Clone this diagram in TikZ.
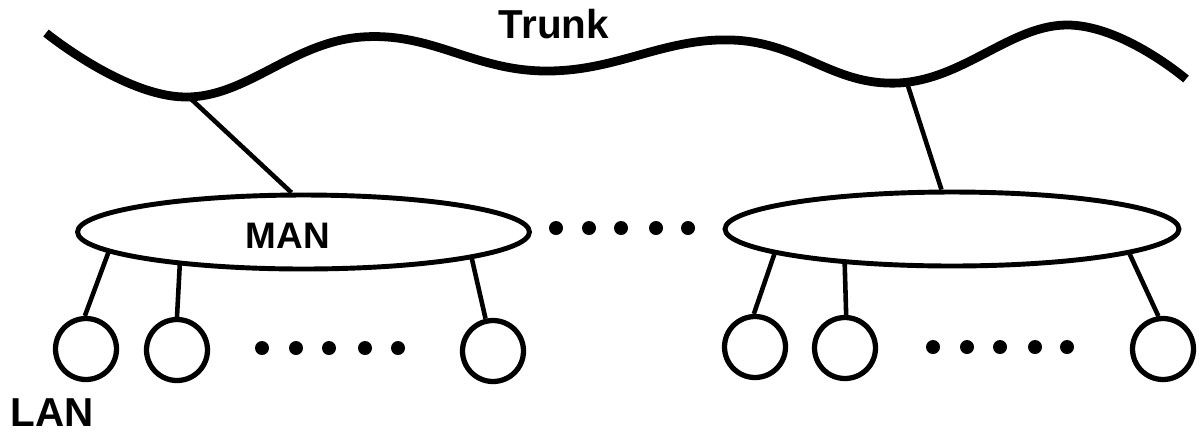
\documentclass[tikz,border=0pt]{standalone}
\usepackage{fontspec}
\setmainfont{Liberation Sans}
\usetikzlibrary{shapes.geometric}
\tikzset{
  man/.style={draw, ellipse, line width=2.8pt, minimum width=9.04cm,
              minimum height=1.48cm, inner sep=0pt},
  lan/.style={draw, circle, line width=3pt, minimum size=1.22cm, inner sep=0pt},
  dotmark/.style={fill, circle, minimum size=0.28cm, inner sep=0pt},
  link/.style={line width=2.6pt},
  trunk/.style={line width=5pt},
  lbl/.style={font=\bfseries\fontsize{23}{27}\selectfont, anchor=base, inner sep=0pt}
}

\begin{document}
\begin{tikzpicture}[x=0.02cm, y=-0.02cm]
\useasboundingbox (0,0) rectangle (1200,434);

% backbone
\draw[trunk] plot[smooth, tension=0.7] coordinates
  {(46,33) (185,97) (362,37) (545,71) (732,40) (898,83) (1066,25) (1186,79)};
\node[lbl] (trunklabel) at (554,38) {Trunk};
\coordinate (tapL) at (190,98);
\coordinate (tapR) at (908,86);

% metropolitan networks
\node[man] (manL) at (303.5,232) {};
\node[man, minimum width=9.08cm] (manR) at (952,229) {};
\node[lbl, font=\bfseries\fontsize{21}{25}\selectfont] (mantext) at (288,248) {MAN};

\draw[link] (tapL) -- (manL.107);
\draw[link] (tapR) -- (manR.105);

% local networks
\node[lan] (lan1) at (86,349) {};
\node[lan] (lan2) at (177,350) {};
\node[lan] (lan3) at (493,351) {};
\node[lan] (lan4) at (755,347) {};
\node[lan] (lan5) at (845,348) {};
\node[lan] (lan6) at (1163,349) {};
\node[lbl] (lantext) at (52,426) {LAN};

\draw[link] (manL.186) -- (lan1.92);
\draw[link] (manL.195.5) -- (lan2.90);
\draw[link] (manL.351) -- (lan3.103);
\draw[link] (manR.188) -- (lan4.92);
\draw[link] (manR.198.4) -- (lan5.88);
\draw[link] (manR.352.5) -- (lan6.98);

% ellipsis dots
\foreach \i/\x in {1/556, 2/589, 3/621, 4/656, 5/688}
  \node[dotmark] (mdot\i) at (\x,228) {};
\foreach \i/\x in {1/262, 2/296, 3/329, 4/365, 5/398}
  \node[dotmark] (ldot\i) at (\x,348) {};
\foreach \i/\x in {1/933, 2/967, 3/1000, 4/1035, 5/1067}
  \node[dotmark] (rdot\i) at (\x,347) {};
\end{tikzpicture}
\end{document}
